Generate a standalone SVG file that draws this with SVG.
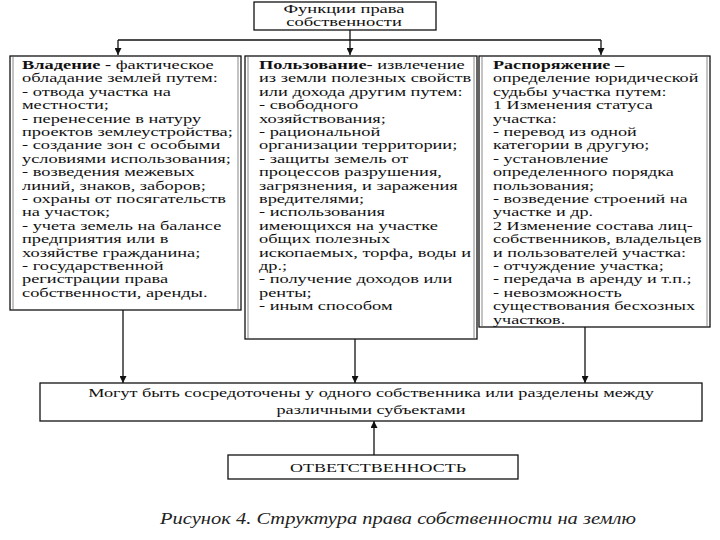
<svg xmlns="http://www.w3.org/2000/svg" width="720" height="540" viewBox="0 0 720 540">
<defs>
<marker id="ah" viewBox="0 0 10 10" refX="10" refY="5" markerWidth="7" markerHeight="7" markerUnits="userSpaceOnUse" orient="auto">
<path d="M0,0 L10,5 L0,10 z" fill="#111"/>
</marker>
<style>
.t{font-family:"Liberation Serif","Times New Roman",serif;font-size:12px;fill:#111}
.m{font-size:13px}
.b{font-weight:bold}
.box{fill:#fff;stroke:#111;stroke-width:1.3}
.in{stroke:#888;stroke-width:1}
.c{fill:none;stroke:#111;stroke-width:1.3}
.cap{font-family:"Liberation Serif","Times New Roman",serif;font-size:17px;font-style:italic;fill:#222}
</style>
</defs>
<rect width="720" height="540" fill="#fff"/>

<g id="connectors">
<line class="c" x1="350" y1="30" x2="350" y2="40"/>
<line class="c" x1="118" y1="40" x2="601" y2="40"/>
<line class="c" x1="118" y1="40" x2="118" y2="55" marker-end="url(#ah)"/>
<line class="c" x1="350" y1="40" x2="350" y2="55" marker-end="url(#ah)"/>
<line class="c" x1="601" y1="40" x2="601" y2="55" marker-end="url(#ah)"/>
<line class="c" x1="123" y1="310" x2="123" y2="383" marker-end="url(#ah)"/>
<line class="c" x1="355" y1="339" x2="355" y2="383" marker-end="url(#ah)"/>
<line class="c" x1="585" y1="327" x2="585" y2="383" marker-end="url(#ah)"/>
<line class="c" x1="374" y1="455" x2="374" y2="421" marker-end="url(#ah)"/>
</g>

<g id="top">
<rect class="box" x="254" y="2" width="182" height="28"/>
<g transform="translate(344,0) scale(1.54,1)">
<text class="t" x="0" y="13" text-anchor="middle">Функции права</text>
<text class="t" x="0" y="26" text-anchor="middle">собственности</text>
</g>
</g>

<g id="vladenie">
<rect class="box" x="10" y="56" width="231" height="254"/>
<line class="in" x1="13" y1="57" x2="13" y2="309"/>
<line class="in" x1="238" y1="57" x2="238" y2="309"/>
<g transform="translate(22,0) scale(1.53,1)">
<text class="t" x="0" y="69"><tspan class="b">Владение -</tspan> фактическое</text>
<text class="t" x="0" y="82.4">обладание землей путем:</text>
<text class="t" x="0" y="95.8">- отвода участка на</text>
<text class="t" x="0" y="109.2">местности;</text>
<text class="t" x="0" y="122.6">- перенесение в натуру</text>
<text class="t" x="0" y="136">проектов землеустройства;</text>
<text class="t" x="0" y="149.4">- создание зон с особыми</text>
<text class="t" x="0" y="162.8">условиями использования;</text>
<text class="t" x="0" y="176.2">- возведения межевых</text>
<text class="t" x="0" y="189.6">линий, знаков, заборов;</text>
<text class="t" x="0" y="203">- охраны от посягательств</text>
<text class="t" x="0" y="216.4">на участок;</text>
<text class="t" x="0" y="229.8">- учета земель на балансе</text>
<text class="t" x="0" y="243.2">предприятия или в</text>
<text class="t" x="0" y="256.6">хозяйстве гражданина;</text>
<text class="t" x="0" y="270">- государственной</text>
<text class="t" x="0" y="283.4">регистрации права</text>
<text class="t" x="0" y="296.8">собственности, аренды.</text>
</g>
</g>

<g id="polzovanie">
<rect class="box" x="245" y="56" width="232" height="283"/>
<line class="in" x1="248" y1="57" x2="248" y2="338"/>
<line class="in" x1="474" y1="57" x2="474" y2="338"/>
<g transform="translate(259,0) scale(1.53,1)">
<text class="t" x="0" y="69"><tspan class="b">Пользование-</tspan> извлечение</text>
<text class="t" x="0" y="82.4">из земли полезных свойств</text>
<text class="t" x="0" y="95.8">или дохода другим путем:</text>
<text class="t" x="0" y="109.2">- свободного</text>
<text class="t" x="0" y="122.6">хозяйствования;</text>
<text class="t" x="0" y="136">- рациональной</text>
<text class="t" x="0" y="149.4">организации территории;</text>
<text class="t" x="0" y="162.8">- защиты земель от</text>
<text class="t" x="0" y="176.2">процессов разрушения,</text>
<text class="t" x="0" y="189.6">загрязнения, и заражения</text>
<text class="t" x="0" y="203">вредителями;</text>
<text class="t" x="0" y="216.4">- использования</text>
<text class="t" x="0" y="229.8">имеющихся на участке</text>
<text class="t" x="0" y="243.2">общих полезных</text>
<text class="t" x="0" y="256.6">ископаемых, торфа, воды и</text>
<text class="t" x="0" y="270">др.;</text>
<text class="t" x="0" y="283.4">- получение доходов или</text>
<text class="t" x="0" y="296.8">ренты;</text>
<text class="t" x="0" y="310.2">- иным способом</text>
</g>
</g>

<g id="rasporyazhenie">
<rect class="box" x="479" y="56" width="231" height="271"/>
<line class="in" x1="482" y1="57" x2="482" y2="326"/>
<line class="in" x1="707" y1="57" x2="707" y2="326"/>
<g transform="translate(493,0) scale(1.51,1)">
<text class="t b" x="0" y="69">Распоряжение –</text>
<text class="t" x="0" y="82.4">определение юридической</text>
<text class="t" x="0" y="95.8">судьбы участка путем:</text>
<text class="t" x="0" y="109.2">1 Изменения статуса</text>
<text class="t" x="0" y="122.6">участка:</text>
<text class="t" x="0" y="136">- перевод из одной</text>
<text class="t" x="0" y="149.4">категории в другую;</text>
<text class="t" x="0" y="162.8">- установление</text>
<text class="t" x="0" y="176.2">определенного порядка</text>
<text class="t" x="0" y="189.6">пользования;</text>
<text class="t" x="0" y="203">- возведение строений на</text>
<text class="t" x="0" y="216.4">участке и др.</text>
<text class="t" x="0" y="229.8">2 Изменение состава лиц-</text>
<text class="t" x="0" y="243.2">собственников, владельцев</text>
<text class="t" x="0" y="256.6">и пользователей участка:</text>
<text class="t" x="0" y="270">- отчуждение участка;</text>
<text class="t" x="0" y="283.4">- передача в аренду и т.п.;</text>
<text class="t" x="0" y="296.8">- невозможность</text>
<text class="t" x="0" y="310.2">существования бесхозных</text>
<text class="t" x="0" y="323.6">участков.</text>
</g>
</g>

<g id="sosredotocheny">
<rect class="box" x="40" y="383" width="662" height="38"/>
<g transform="translate(371,0) scale(1.4,1)">
<text class="t m" x="0" y="397" text-anchor="middle">Могут быть сосредоточены у одного собственника или разделены между</text>
<text class="t m" x="0" y="414" text-anchor="middle">различными субъектами</text>
</g>
</g>

<g id="otvetstvennost">
<rect class="box" x="228" y="455" width="290" height="24"/>
<g transform="translate(378,0) scale(1.38,1)">
<text class="t m" x="0" y="472" text-anchor="middle">ОТВЕТСТВЕННОСТЬ</text>
</g>
</g>

<text class="cap" x="398" y="524" text-anchor="middle" textLength="476" lengthAdjust="spacingAndGlyphs">Рисунок 4. Структура права собственности на землю</text>
</svg>
